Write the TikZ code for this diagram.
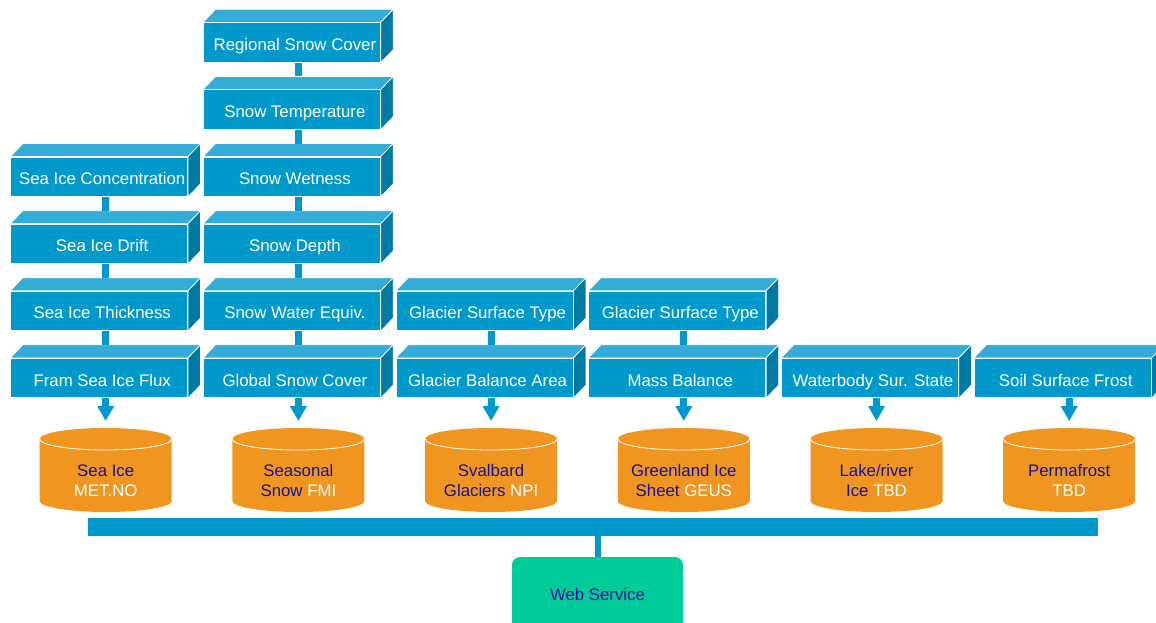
\documentclass[tikz,border=0pt]{standalone}
\usepackage{fontspec}
\setmainfont{Liberation Sans}
\usetikzlibrary{arrows.meta,calc}
\definecolor{bfront}{RGB}{0,153,204}
\definecolor{btop}{RGB}{51,172,216}
\definecolor{bside}{RGB}{0,122,163}
\definecolor{corange}{RGB}{240,150,32}
\definecolor{cnavy}{RGB}{20,20,150}
\definecolor{wgreen}{RGB}{0,204,153}
\tikzset{
  frontbox/.style={fill=bfront, draw=white, line width=0.7pt, minimum width=177pt, minimum height=39.5pt, inner sep=0pt, text=white, text height=12.2pt, text depth=3.6pt, font=\fontsize{16.8}{20}\selectfont},
  topface/.style={fill=btop, draw=white, line width=0.7pt},
  sideface/.style={fill=bside, draw=white, line width=0.7pt},
  link/.style={draw=bfront, line width=7pt},
  flow/.style={draw=bfront, line width=7pt, -{Triangle[width=16pt,length=15pt]}},
  cyltext/.style={text=cnavy, align=center, font=\fontsize{16.8}{20}\selectfont, inner sep=0pt},
  busbar/.style={fill=bfront, minimum width=1010pt, minimum height=18pt, inner sep=0pt},
  webbox/.style={fill=wgreen, rounded corners=8pt, minimum width=171pt, minimum height=90pt, inner sep=0pt},
}
\newcommand\cubebox[4]{%
  \node[frontbox] (#1) at ({10.7+192.7*#2+88.5},{22.7+67.1*#3+19.75}) {\raisebox{-3.8pt}[\height][\depth]{\hspace*{6pt}#4}};
  \path[topface] (#1.north west) -- ++(12.5pt,13pt) -- ([xshift=12.5pt,yshift=13pt]#1.north east) -- (#1.north east) -- cycle;
  \path[sideface] (#1.north east) -- ++(12.5pt,13pt) -- ([xshift=12.5pt,yshift=13pt]#1.south east) -- (#1.south east) -- cycle;
}
\newcommand\datacyl[4]{% name, col, line1, line2
  \pgfmathsetmacro\cx{10.7+192.7*#2+95}
  \fill[corange] (\cx-66,439) -- (\cx-66,501) arc[start angle=180,end angle=360,x radius=66pt,y radius=11pt] -- (\cx+66,439) arc[start angle=0,end angle=180,x radius=66pt,y radius=11pt] -- cycle;
  \draw[white, line width=0.8pt] (\cx-66,439) arc[start angle=180,end angle=360,x radius=66pt,y radius=11pt];
  \coordinate (#1top) at (\cx,421);
  \node[cyltext] (#1) at (\cx,480.5) {#3\\#4};
}
\begin{document}
\begin{tikzpicture}[x=1pt,y=-1pt]
\clip (0,0) rectangle (1156,622);
\fill[white] (0,0) rectangle (1156,622);
% column 1
\cubebox{a3}{0}{2}{Sea Ice Concentration}
\cubebox{a4}{0}{3}{Sea Ice Drift}
\cubebox{a5}{0}{4}{Sea Ice Thickness}
\cubebox{a6}{0}{5}{Fram Sea Ice Flux}
% column 2
\cubebox{b1}{1}{0}{Regional Snow Cover}
\cubebox{b2}{1}{1}{Snow Temperature}
\cubebox{b3}{1}{2}{Snow Wetness}
\cubebox{b4}{1}{3}{Snow Depth}
\cubebox{b5}{1}{4}{Snow Water Equiv.}
\cubebox{b6}{1}{5}{Global Snow Cover}
% column 3
\cubebox{c5}{2}{4}{Glacier Surface Type}
\cubebox{c6}{2}{5}{Glacier Balance Area}
% column 4
\cubebox{d5}{3}{4}{Glacier Surface Type}
\cubebox{d6}{3}{5}{Mass Balance}
% column 5
\cubebox{e6}{4}{5}{Waterbody Sur. State}
% column 6
\cubebox{f6}{5}{5}{Soil Surface Frost}
% links
\foreach \u/\v in {a3/a4,a4/a5,a5/a6,b1/b2,b2/b3,b3/b4,b4/b5,b5/b6,c5/c6,d5/d6}{
  \draw[link] ([xshift=6.5pt]\u.south) -- ([xshift=6.5pt,yshift=13pt]\v.north);
}
% cylinders
\datacyl{ca}{0}{Sea Ice}{\textcolor{white}{MET.NO}}
\datacyl{cb}{1}{Seasonal}{Snow \textcolor{white}{FMI}}
\datacyl{cc}{2}{Svalbard}{Glaciers \textcolor{white}{NPI}}
\datacyl{cd}{3}{Greenland Ice}{Sheet \textcolor{white}{GEUS}}
\datacyl{ce}{4}{Lake/river}{Ice \textcolor{white}{TBD}}
\datacyl{cf}{5}{Permafrost}{\textcolor{white}{TBD}}
% arrows
\foreach \u/\v in {a6/ca,b6/cb,c6/cc,d6/cd,e6/ce,f6/cf}{
  \draw[flow] ([xshift=6.5pt]\u.south) -- (\v top);
}
% bus and web service
\node[busbar] (bus) at (593,527) {};
\node[webbox] (web) at (597.5,602) {};
\node[text=cnavy, font=\fontsize{16.8}{20}\selectfont, inner sep=0pt] (webtext) at (597.5,594) {Web Service};
\draw[draw=bfront, line width=6pt] (bus.south -| web.north) -- (web.north);
\end{tikzpicture}
\end{document}
